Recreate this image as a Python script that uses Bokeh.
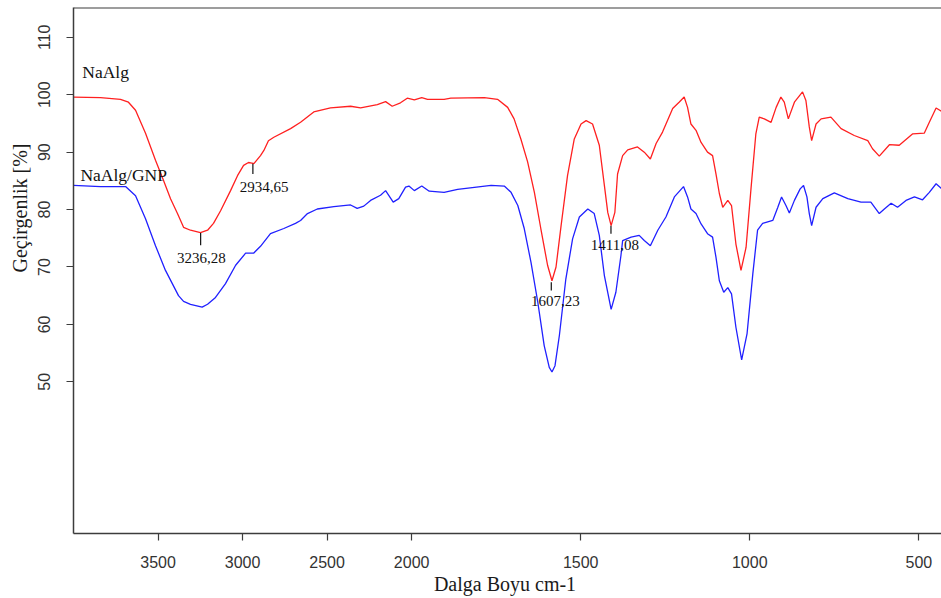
import numpy as np
from bokeh.plotting import figure
from bokeh.models import Range1d, FixedTicker, Label, Span, LinearAxis
from bokeh.embed import file_html
from bokeh.resources import INLINE

# ---------------- data (wavenumber cm-1, transmittance %) ----------------
naalg_wn = [4000, 3840, 3722, 3675, 3633, 3574, 3515, 3468, 3426, 3385, 3349, 3308, 3249, 3207,
            3172, 3130, 3071, 3030, 2994, 2965, 2945, 2933, 2894, 2874, 2847, 2815, 2716, 2657,
            2579, 2480, 2361, 2302, 2203, 2154, 2115, 2066, 2026, 1992, 1970, 1953, 1904, 1884,
            1785, 1746, 1716, 1697, 1677, 1657, 1637, 1618, 1598, 1585, 1573, 1558, 1539, 1519,
            1499, 1484, 1465, 1445, 1430, 1420, 1410, 1399, 1391, 1376, 1361, 1332, 1312, 1294,
            1277, 1258, 1228, 1209, 1194, 1184, 1174, 1159, 1144, 1125, 1110, 1100, 1090, 1080,
            1065, 1054, 1041, 1026, 1011, 996, 982, 972, 957, 937, 922, 908, 898, 886, 868, 844,
            834, 824, 817, 804, 789, 760, 730, 691, 651, 637, 617, 587, 558, 518, 484, 469, 449, 432]
naalg_t = [99.6, 99.5, 99.2, 98.7, 97.3, 93.3, 88.6, 85.1, 81.9, 79.3, 76.9, 76.4, 76.0, 76.4,
           77.6, 79.8, 83.3, 85.9, 87.7, 88.2, 88.1, 88.0, 89.4, 90.3, 92.0, 92.6, 94.1, 95.2,
           97.0, 97.7, 98.0, 97.7, 98.3, 98.8, 98.0, 98.6, 99.4, 99.1, 99.5, 99.2, 99.2, 99.4,
           99.5, 99.2, 97.8, 95.8, 92.3, 88.3, 83.0, 76.7, 70.3, 67.6, 70.0, 77.2, 85.9, 92.3,
           94.9, 95.5, 94.9, 91.2, 84.2, 79.5, 77.2, 79.5, 86.2, 89.4, 90.4, 90.9, 90.0, 88.8,
           91.5, 93.5, 97.6, 98.7, 99.6, 97.8, 94.9, 93.8, 91.7, 90.0, 89.4, 86.2, 82.8, 80.4,
           81.6, 80.7, 74.0, 69.4, 73.4, 83.9, 93.2, 96.1, 95.8, 95.2, 97.8, 99.6, 98.7, 95.8, 98.7, 100.5,
           99.0, 94.4, 92.0, 94.9, 95.8, 96.1, 94.1, 92.9, 92.0, 90.6, 89.3, 91.3, 91.2, 93.2, 93.3, 95.2, 97.7, 97.1]

gnp_wn = [4000, 3840, 3692, 3633, 3574, 3515, 3456, 3379, 3349, 3308, 3239, 3207, 3160, 3101,
          3041, 2982, 2935, 2894, 2835, 2756, 2687, 2657, 2616, 2558, 2460, 2361, 2322, 2283,
          2243, 2184, 2154, 2109, 2076, 2036, 2016, 1992, 1970, 1948, 1904, 1864, 1765, 1726,
          1706, 1686, 1667, 1647, 1627, 1608, 1593, 1585, 1576, 1563, 1544, 1524, 1504, 1479,
          1460, 1445, 1430, 1410, 1396, 1381, 1376, 1351, 1327, 1312, 1294, 1272, 1248, 1223,
          1196, 1184, 1174, 1159, 1144, 1125, 1110, 1100, 1090, 1077, 1065, 1054, 1041, 1024,
          1008, 991, 977, 962, 932, 917, 906, 893, 883, 868, 851, 841, 831, 824, 817, 804, 784,
          750, 710, 671, 642, 617, 602, 582, 563, 538, 513, 489, 469, 449, 432]
gnp_t = [84.2, 84.0, 84.0, 82.4, 78.4, 73.7, 69.4, 65.0, 64.0, 63.5, 63.0, 63.5, 64.7, 67.1,
         70.3, 72.4, 72.4, 73.6, 75.8, 76.7, 77.6, 78.1, 79.3, 80.1, 80.5, 80.8, 80.2, 80.6,
         81.6, 82.5, 83.3, 81.3, 81.9, 83.9, 84.1, 83.3, 84.1, 83.2, 83.0, 83.5, 84.2, 84.1,
         83.0, 80.7, 76.7, 70.8, 63.9, 56.3, 52.5, 51.7, 52.8, 58.1, 67.9, 74.9, 78.7, 80.1,
         79.3, 75.5, 68.5, 62.6, 65.6, 72.0, 74.6, 75.2, 75.5, 74.6, 73.7, 76.4, 78.7, 82.2,
         84.0, 82.2, 80.1, 79.3, 77.5, 75.8, 75.2, 71.7, 67.6, 65.6, 66.4, 65.3, 59.5, 53.8,
         58.4, 68.8, 76.4, 77.6, 78.1, 80.4, 82.2, 80.7, 79.4, 81.6, 83.6, 84.2, 82.2, 79.3, 77.2, 80.4, 81.9,
         82.9, 81.9, 81.3, 81.3, 79.3, 80.1, 81.1, 80.4, 81.6, 82.2, 81.7, 83.0, 84.5, 83.6]

x_ticks = [3500, 3000, 2500, 2000, 1500, 1000, 500]
y_ticks = [50, 60, 70, 80, 90, 100, 110]
x_title = "Dalga Boyu  cm-1"
y_title = "Geçirgenlik  [%]"

# peak annotations
peak_labels = ["3236,28", "2934,65", "1607,23", "1411,08"]
peak_mark_wn = [3248, 2939, 1587, 1410.5]
peak_mark_y0 = [75.9, 88.0, 67.35, 77.2]
peak_mark_y1 = [73.8, 86.2, 65.9, 75.8]
peak_text_wn = [3243, 2872, 1575, 1399]
peak_text_y = [71.5, 83.9, 64.0, 73.9]

Y_TOP, Y_BOTTOM = 115.2, 23.57
Y_TITLE_CENTER = 80.7


# ---------------- axis with a scale change at 2000 cm-1 ----------------
def to_t(wn):
    wn = np.asarray(wn, dtype=float)
    return np.where(wn >= 2000, 4000 - wn, 2000 + 2 * (2000 - wn))


p = figure(width=941, height=598, output_backend="svg", toolbar_location=None,
           min_border_left=73, min_border_right=0, min_border_top=7, min_border_bottom=65,
           x_range=Range1d(0, float(to_t(433))), y_range=Range1d(Y_BOTTOM, Y_TOP))
p.outline_line_color = None
p.background_fill_color = "white"
p.border_fill_color = "white"
p.grid.visible = False

p.line(to_t(naalg_wn), naalg_t, line_color="#ff2020", line_width=1.3)
p.line(to_t(gnp_wn), gnp_t, line_color="#2020ff", line_width=1.3)

# peak markers
p.segment(x0=to_t(peak_mark_wn), y0=peak_mark_y0, x1=to_t(peak_mark_wn), y1=peak_mark_y1,
          line_color="#111111", line_width=1.2)
for lab, xw, yv in zip(peak_labels, peak_text_wn, peak_text_y):
    p.add_layout(Label(x=float(to_t(xw)), y=yv, text=lab, text_font="Liberation Serif",
                       text_font_size="15px", text_align="center", text_baseline="middle",
                       text_color="#111111"))

# series names
p.add_layout(Label(x=float(to_t(3948)), y=103.9, text="NaAlg", text_font="Liberation Serif",
                   text_font_size="17.5px", text_align="left", text_baseline="middle",
                   text_color="#111111"))
p.add_layout(Label(x=float(to_t(3959)), y=86.0, text="NaAlg/GNP", text_font="Liberation Serif",
                   text_font_size="17.5px", text_align="left", text_baseline="middle",
                   text_color="#111111"))

# top frame line
p.add_layout(Span(location=Y_TOP, dimension="width", line_color="#3c3c3c", line_width=2))

# axes
ax = p.xaxis[0]
ax.ticker = FixedTicker(ticks=[float(v) for v in to_t(x_ticks)])
ax.major_label_overrides = {float(t): str(v) for t, v in zip(to_t(x_ticks), x_ticks)}
ay = p.yaxis[0]
ay.ticker = FixedTicker(ticks=y_ticks)
ay.major_label_orientation = "vertical"
for a in (ax, ay):
    a.axis_line_color = "#3c3c3c"
    a.axis_line_width = 1.5
    a.major_tick_line_color = "#3c3c3c"
    a.major_tick_line_width = 1.2
    a.major_tick_out = 7
    a.major_tick_in = 0
    a.minor_tick_line_color = None
    a.major_label_text_font = "Liberation Sans"
    a.major_label_text_font_size = "16px"
    a.major_label_text_color = "#333333"
ax.major_label_standoff = 15
ay.major_label_standoff = 16

ax.axis_label = x_title
ax.axis_label_text_font = "Liberation Serif"
ax.axis_label_text_font_size = "20px"
ax.axis_label_text_font_style = "normal"
ax.axis_label_text_color = "#1a1a1a"
ax.axis_label_standoff = 2

# y title carried by an outer axis so it can sit where the original has it
ty = LinearAxis(ticker=FixedTicker(ticks=[Y_TITLE_CENTER]),
                major_label_overrides={Y_TITLE_CENTER: y_title},
                major_label_orientation="vertical", major_label_standoff=4,
                major_label_text_font="Liberation Serif", major_label_text_font_size="20px",
                major_label_text_color="#1a1a1a",
                axis_line_color=None, major_tick_line_color=None, minor_tick_line_color=None,
                major_tick_out=0, major_tick_in=0)
p.add_layout(ty, "left")

open("out.html", "w").write(file_html(p, INLINE))
